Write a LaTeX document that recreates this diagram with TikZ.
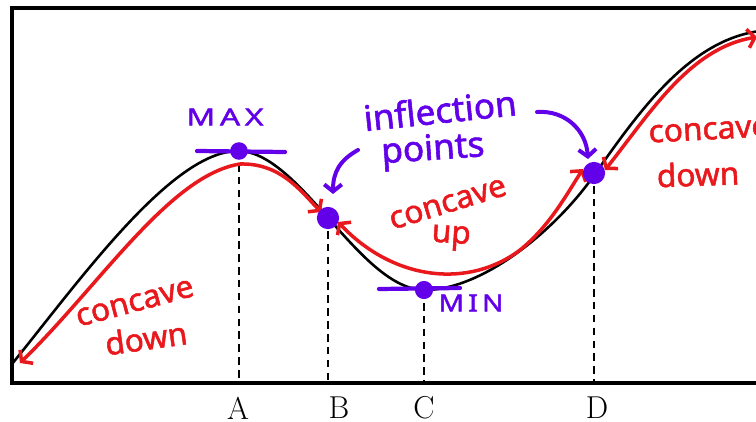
\documentclass[tikz,border=0pt]{standalone}
\usepackage{fontspec}
\newfontfamily\hand[FakeBold=1.6]{Noto Sans}
\usetikzlibrary{arrows.meta}
\definecolor{pen}{RGB}{98,0,234}
\definecolor{ink}{RGB}{232,24,28}
\tikzset{
  frame/.style={line width=2.8pt, line cap=rect},
  graphline/.style={line width=2.2pt},
  dashline/.style={line width=1.7pt, dash pattern=on 6.5pt off 4.5pt},
  redarrow/.style={draw=ink, line width=3pt, line cap=round, line join=round,
    {Straight Barb[length=6pt,width=16pt]}-{Straight Barb[length=6pt,width=16pt]}},
  purplearrow/.style={draw=pen, line width=3.4pt, line cap=round,
    -{Straight Barb[length=6pt,width=15pt]}},
  tangent/.style={draw=pen, line width=3.6pt, line cap=round},
  dot/.style={circle, fill=pen, inner sep=0pt},
  ptxt/.style={text=pen, inner sep=0pt, font=\hand\fontsize{30}{32}\selectfont},
  captxt/.style={text=pen, inner sep=0pt, font=\hand\fontsize{20}{22}\selectfont\addfontfeature{LetterSpace=15}},
  rtxt/.style={text=ink, inner sep=0pt, font=\hand\fontsize{27}{29}\selectfont},
  axlab/.style={inner sep=0pt, font=\fontsize{27}{29}\selectfont}
}
\begin{document}
\begin{tikzpicture}[x=0.03cm,y=-0.03cm]
\useasboundingbox (0,0) rectangle (756,422);
% frame
\draw[frame] (760,8) -- (12,8) -- (12,383) -- (760,383);
% function graph
\draw[graphline] (12,364) .. controls (80,280) and (172,151) .. (238,151)
  .. controls (300,151) and (360,290) .. (425,290)
  .. controls (480,290) and (553,234) .. (595,174)
  .. controls (640,110) and (690,40) .. (760,31);
% special points
\coordinate (pA) at (239,151);
\coordinate (pB) at (328,218);
\coordinate (pC) at (424,290);
\coordinate (pD) at (594,173);
\coordinate (axA) at (239,383);
\coordinate (axB) at (328,383);
\coordinate (axC) at (424,383);
\coordinate (axD) at (594,383);
\draw[dashline] (pA) -- (axA);
\draw[dashline] (pB) -- (axB);
\draw[dashline] (pC) -- (axC);
\draw[dashline] (pD) -- (axD);
% tangent lines
\coordinate (tA1) at (197,151);
\coordinate (tA2) at (285,152);
\coordinate (tC1) at (379,289);
\coordinate (tC2) at (460,288);
\draw[tangent] (tA1) -- (tA2);
\draw[tangent] (tC1) -- (tC2);
% red concavity arrows
\draw[redarrow] (20,363) .. controls (100,285) and (170,175) .. (240,164)
  .. controls (280,163) and (300,190) .. (321,212);
\draw[redarrow] (338,222) .. controls (395,282) and (470,288) .. (520,250)
  .. controls (550,226) and (568,192) .. (583,169);
\draw[redarrow] (605,170) .. controls (650,113) and (690,48) .. (757,37);
% dots
\node[dot, minimum size=15pt] (maxpt) at (pA) {};
\node[dot, minimum size=19pt] (infB) at (pB) {};
\node[dot, minimum size=15.5pt] (minpt) at (pC) {};
\node[dot, minimum size=19pt] (infD) at (pD) {};
% axis labels
\node[axlab] (labA) at (238,408) {A};
\node[axlab] (labB) at (339,408) {B};
\node[axlab] (labC) at (424,408) {C};
\node[axlab] (labD) at (597,408) {D};
% purple labels
\node[captxt] (maxl) at (225,117) {\scalebox{1.35}[1]{MAX}};
\node[captxt] (minl) at (471,303) {\scalebox{1.2}[1]{MIN}};
\node[ptxt, rotate=6] (infl) at (440,110) {inflection};
\node[ptxt, rotate=4] (pts) at (433,151) {points};
\coordinate (a1s) at (358,150);
\coordinate (a1e) at (333,194);
\coordinate (a2s) at (537,112);
\coordinate (a2e) at (588,159);
\draw[purplearrow] (a1s) .. controls (340,160) and (333,172) .. (a1e);
\draw[purplearrow] (a2s) .. controls (565,110) and (586,130) .. (a2e);
% red labels
\node[rtxt, rotate=15] (cd1) at (135,303) {concave};
\node[rtxt, rotate=8] (cd2) at (146,338) {down};
\node[rtxt, rotate=17] (cu1) at (448,204) {concave};
\node[rtxt, rotate=-4] (cu2) at (451,238) {up};
\node[rtxt, rotate=3] (cd3) at (709,131) {concave};
\node[rtxt, rotate=2] (cd4) at (698,174) {down};
\end{tikzpicture}
\end{document}
